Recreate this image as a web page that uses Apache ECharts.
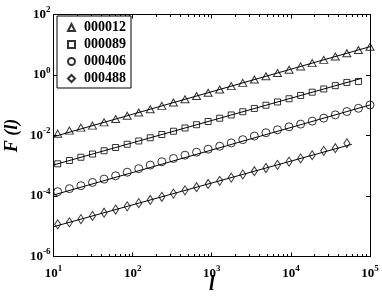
<!DOCTYPE html>
<html><head><meta charset="utf-8">
<script src="https://cdn.jsdelivr.net/npm/echarts@6/dist/echarts.min.js"></script>
<style>html,body{margin:0;padding:0;background:#fff}#c{width:382px;height:299px}</style>
</head><body><div id="c"></div>
<script>
// window sizes l
const lValues = [11.3, 15.9, 22.2, 31.1, 43.6, 61.0, 85.4, 119.5, 167, 234, 328, 459, 643, 900, 1260, 1764, 2469, 3457, 4840, 6776, 9486, 13281, 18593, 26031, 36443, 51020, 71429, 100000];
// F(l) for each stock
const f000012 = [0.0115, 0.0145, 0.0182, 0.0212, 0.0272, 0.0350, 0.0450, 0.0577, 0.0741, 0.0953, 0.1225, 0.157, 0.202, 0.259, 0.333, 0.429, 0.550, 0.706, 0.908, 1.164, 1.496, 1.923, 2.466, 3.170, 4.074, 5.236, 6.714, 8.630];
const f000089 = [0.00116, 0.00149, 0.00191, 0.00244, 0.00313, 0.00401, 0.00513, 0.00658, 0.00841, 0.01079, 0.01384, 0.01770, 0.0227, 0.0290, 0.0372, 0.0478, 0.0611, 0.0783, 0.1002, 0.1285, 0.1644, 0.211, 0.270, 0.345, 0.444, 0.568, 0.611];
const f000406 = [1.387e-4, 1.750e-4, 2.188e-4, 2.818e-4, 3.614e-4, 4.645e-4, 6.109e-4, 8.017e-4, 1.054e-3, 1.355e-3, 1.742e-3, 2.239e-3, 2.805e-3, 3.524e-3, 4.416e-3, 5.689e-3, 7.295e-3, 9.594e-3, 1.233e-2, 1.545e-2, 1.941e-2, 2.382e-2, 2.985e-2, 3.750e-2, 4.819e-2, 6.194e-2, 7.943e-2, 0.1021];
const f000488 = [1.156e-5, 1.349e-5, 1.718e-5, 2.193e-5, 2.799e-5, 3.565e-5, 4.550e-5, 5.794e-5, 7.396e-5, 9.419e-5, 1.202e-4, 1.535e-4, 1.954e-4, 2.495e-4, 3.177e-4, 4.064e-4, 5.176e-4, 6.607e-4, 8.414e-4, 1.074e-3, 1.368e-3, 1.746e-3, 2.223e-3, 3.112e-3, 3.793e-3, 5.546e-3];
// fitted power-law lines: [start, end] points
const fit000012 = [[10, 0.00912], [100000, 8.63]];
const fit000089 = [[10, 0.00106], [78700, 0.778]];
const fit000406 = [[10, 1.079e-4], [100000, 0.1021]];
const fit000488 = [[10, 9.66e-6], [58900, 5.12e-3]];
const seriesNames = ['000012', '000089', '000406', '000488'];
const xMajorTicks = [10, 100, 1000, 10000, 100000];
const xMinorTicks = [20,30,40,50,60,70,80,90,200,300,400,500,600,700,800,900,2000,3000,4000,5000,6000,7000,8000,9000,20000,30000,40000,50000,60000,70000,80000,90000];
const yMajorTicks = [1e-6, 1e-4, 1e-2, 1, 100];

const FONT = 'Liberation Serif';
const pairs = ys => ys.map((y, i) => [lValues[i], y]);
const expLabel = v => {
  const e = Math.round(Math.log10(v));
  return '{b|10}{s|' + e + '}';
};
const rich = {
  b: {fontFamily: FONT, fontWeight: 'bold', fontSize: 13, color: '#000'},
  s: {fontFamily: FONT, fontWeight: 'bold', fontSize: 9, color: '#000', padding: [0, 0, 9, 0]}
};
const lineStyle = {color: '#000', width: 1};
const baseX = {type: 'log', logBase: 10, min: 10, max: 100000, gridIndex: 0, splitLine: {show: false}};
const baseY = {type: 'log', logBase: 10, min: 1e-6, max: 100, gridIndex: 0, splitLine: {show: false}};

const symbols = ['triangle', 'rect', 'circle', 'diamond'];
const sizes = [[8, 7], [6, 6], [8, 8], [6, 9]];
const dataSets = [f000012, f000089, f000406, f000488];
const fits = [fit000012, fit000089, fit000406, fit000488];

const series = [];
fits.forEach(f => series.push({
  type: 'line', data: f, symbol: 'none', lineStyle: {color: '#000', width: 1},
  xAxisIndex: 0, yAxisIndex: 0, silent: true, animation: false, z: 2
}));
dataSets.forEach((d, i) => series.push({
  name: seriesNames[i], type: 'scatter', data: pairs(d), symbol: symbols[i], symbolSize: sizes[i],
  itemStyle: {color: 'rgba(255,255,255,0)', borderColor: '#000', borderWidth: 1},
  xAxisIndex: 0, yAxisIndex: 0, animation: false, z: 3
}));

const chart = echarts.init(document.getElementById('c'), null, {renderer: 'canvas'});
chart.setOption({
  backgroundColor: '#fff',
  animation: false,
  grid: {left: 53.5, right: 12, top: 14.5, bottom: 42.5, containLabel: false, outerBoundsMode: 'none'},
  legend: {
    data: seriesNames, orient: 'vertical', left: 57, top: 16,
    backgroundColor: '#fff', borderColor: '#000', borderWidth: 1, borderRadius: 0,
    padding: [4, 5, 2, 10], itemGap: 2, itemWidth: 7, itemHeight: 7,
    textStyle: {fontFamily: FONT, fontWeight: 'bold', fontSize: 14, color: '#000', lineHeight: 15, padding: [0, 0, 0, 4]}
  },
  xAxis: [
    Object.assign({}, baseX, {
      position: 'bottom', name: 'l', nameLocation: 'middle', nameGap: 18, nameMoveOverlap: false,
      nameTextStyle: {fontFamily: FONT, fontStyle: 'italic', fontWeight: 'bold', fontSize: 20, color: '#000'},
      axisLine: {show: true, lineStyle},
      axisTick: {show: true, inside: true, length: 4, lineStyle, customValues: xMajorTicks},
      axisLabel: {show: true, margin: 8, formatter: expLabel, rich, customValues: xMajorTicks}
    }),
    Object.assign({}, baseX, {
      position: 'bottom', axisLine: {show: false},
      axisTick: {show: true, inside: true, length: 2.5, lineStyle, customValues: xMinorTicks},
      axisLabel: {show: false}
    }),
    Object.assign({}, baseX, {
      position: 'top', axisLine: {show: true, lineStyle},
      axisTick: {show: true, inside: true, length: 4, lineStyle, customValues: xMajorTicks},
      axisLabel: {show: false}
    }),
    Object.assign({}, baseX, {
      position: 'top', axisLine: {show: false},
      axisTick: {show: true, inside: true, length: 2.5, lineStyle, customValues: xMinorTicks},
      axisLabel: {show: false}
    })
  ],
  yAxis: [
    Object.assign({}, baseY, {
      position: 'left', name: 'F (l)', nameLocation: 'middle', nameGap: 32, nameRotate: 90, nameMoveOverlap: false,
      nameTextStyle: {fontFamily: FONT, fontStyle: 'italic', fontWeight: 'bold', fontSize: 18, color: '#000'},
      axisLine: {show: true, lineStyle},
      axisTick: {show: true, inside: true, length: 4, lineStyle, customValues: yMajorTicks},
      axisLabel: {show: true, margin: 3, formatter: expLabel, rich, customValues: yMajorTicks}
    }),
    Object.assign({}, baseY, {
      position: 'right', axisLine: {show: true, lineStyle},
      axisTick: {show: true, inside: true, length: 4, lineStyle, customValues: yMajorTicks},
      axisLabel: {show: false}
    })
  ],
  series
});
</script></body></html>
